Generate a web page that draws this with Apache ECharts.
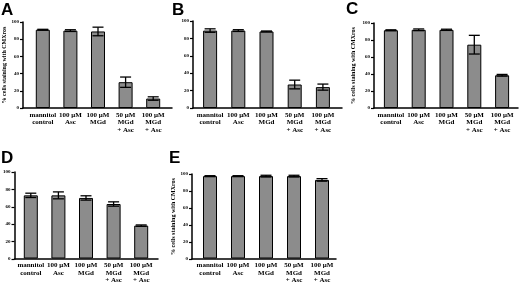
<!DOCTYPE html>
<html>
<head>
<meta charset="utf-8">
<script src="https://cdn.jsdelivr.net/npm/echarts@6/dist/echarts.min.js"></script>
<style>
  html, body { margin: 0; padding: 0; background: #fff; }
  #chart { width: 520px; height: 284px; }
</style>
</head>
<body>
<div id="chart"></div>
<script>
const categories = ['mannitol\ncontrol', '100 \u03bcM\nAsc', '100 \u03bcM\nMGd', '50 \u03bcM\nMGd\n+ Asc', '100 \u03bcM\nMGd\n+ Asc'];
const yTicks = [0, 20, 40, 60, 80, 100];
const yName = '% cells staining with CMXros';

const valuesA = [91, 90, 89, 30, 11];
const errorsA = [0.5, 1, 5, 6, 2];
const valuesB = [89, 89, 88, 27, 24];
const errorsB = [2, 1, 0.5, 5, 3.5];
const valuesC = [91.5, 92, 92, 74.5, 38.5];
const errorsC = [0.5, 1, 0.7, 11, 1];
const valuesD = [73, 73, 70, 63, 38];
const errorsD = [2.5, 4, 2.5, 2.5, 0.8];
const valuesE = [97.5, 97.5, 97.5, 97.5, 93];
const errorsE = [0.5, 0.5, 1, 1, 1.5];

// panel layout: axis frame and bar band area, in px
const panels = [
  { label: 'A', values: valuesA, errors: errorsA, axisX: 23, axisEnd: 172, barL: 29, barR: 167, top: 22, bottom: 108, nameGap: 15, tx: 1, ty: 2 },
  { label: 'B', values: valuesB, errors: errorsB, axisX: 193, axisEnd: 342, barL: 196, barR: 337, top: 21, bottom: 108, nameGap: null, tx: 172, ty: 2 },
  { label: 'C', values: valuesC, errors: errorsC, axisX: 374, axisEnd: 518, barL: 377, barR: 516, top: 23, bottom: 108, nameGap: 18, tx: 346, ty: 1 },
  { label: 'D', values: valuesD, errors: errorsD, axisX: 12, axisEnd: 158, barL: 17, barR: 155, top: 172, bottom: 259, nameGap: null, tx: 1, ty: 150 },
  { label: 'E', values: valuesE, errors: errorsE, axisX: 192, axisEnd: 336, barL: 196, barR: 336, top: 174, bottom: 259, nameGap: 14, tx: 169, ty: 150 }
];

const serif = '"Liberation Serif", "Times New Roman", serif';

function errorItem(params, api) {
  const x = api.value(0), v = api.value(1), e = api.value(2);
  const hi = api.coord([x, v + e]);
  const lo = api.coord([x, v - e]);
  const w = 5.5;
  const s = { stroke: '#000', lineWidth: 1.3 };
  return {
    type: 'group',
    children: [
      { type: 'line', shape: { x1: hi[0], y1: hi[1], x2: lo[0], y2: lo[1] }, style: s },
      { type: 'line', shape: { x1: hi[0] - w, y1: hi[1], x2: hi[0] + w, y2: hi[1] }, style: s },
      { type: 'line', shape: { x1: lo[0] - w, y1: lo[1], x2: lo[0] + w, y2: lo[1] }, style: s }
    ]
  };
}

const grid = [], xAxis = [], yAxis = [], series = [], title = [];

panels.forEach((p, k) => {
  const h = p.bottom - p.top;
  // frame grid: the visible axes
  grid.push({ left: p.axisX, top: p.top, width: p.axisEnd - p.axisX, height: h, containLabel: false });
  // bar grid: where the categories sit
  grid.push({ left: p.barL, top: p.top, width: p.barR - p.barL, height: h, containLabel: false });

  xAxis.push({
    gridIndex: 2 * k, type: 'value', min: 0, max: 1,
    axisLine: { show: true, lineStyle: { color: '#000', width: 1.5 } },
    axisTick: { show: false }, axisLabel: { show: false }, splitLine: { show: false }
  });
  xAxis.push({
    gridIndex: 2 * k + 1, type: 'category', data: categories,
    axisLine: { show: false }, axisTick: { show: false }, splitLine: { show: false },
    axisLabel: {
      interval: 0, margin: 3, color: '#000', fontFamily: serif, fontWeight: 'bold',
      fontSize: 7, lineHeight: 7.5
    }
  });

  yAxis.push({
    gridIndex: 2 * k, type: 'value', min: yTicks[0], max: yTicks[yTicks.length - 1], interval: 20,
    axisLine: { show: true, lineStyle: { color: '#000', width: 1.5 } },
    axisTick: { show: true, length: 3, lineStyle: { color: '#000', width: 1.2 } },
    axisLabel: { margin: 4, color: '#000', fontFamily: serif, fontWeight: 'bold', fontSize: 5 },
    splitLine: { show: false },
    name: p.nameGap === null ? '' : yName,
    nameLocation: 'middle', nameGap: p.nameGap || 0,
    nameTextStyle: { color: '#000', fontFamily: serif, fontWeight: 'bold', fontSize: 6 }
  });
  yAxis.push({
    gridIndex: 2 * k + 1, type: 'value', min: 0, max: 100, show: false
  });

  series.push({
    type: 'bar', xAxisIndex: 2 * k + 1, yAxisIndex: 2 * k + 1,
    data: p.values, barWidth: 14, silent: true,
    itemStyle: { color: '#8c8c8c', borderColor: '#000', borderWidth: 1 }
  });
  series.push({
    type: 'custom', xAxisIndex: 2 * k + 1, yAxisIndex: 2 * k + 1,
    data: p.values.map((v, i) => [i, v, p.errors[i]]),
    renderItem: errorItem, silent: true, z: 5
  });

  title.push({
    text: p.label, left: p.tx, top: p.ty, padding: 0,
    textStyle: { fontFamily: '"Liberation Sans", Arial, sans-serif', fontWeight: 'bold', fontSize: 17, color: '#000' }
  });
});

const chart = echarts.init(document.getElementById('chart'), null, { renderer: 'canvas' });
chart.setOption({
  animation: false,
  backgroundColor: '#fff',
  title, grid, xAxis, yAxis, series
});
</script>
</body>
</html>
